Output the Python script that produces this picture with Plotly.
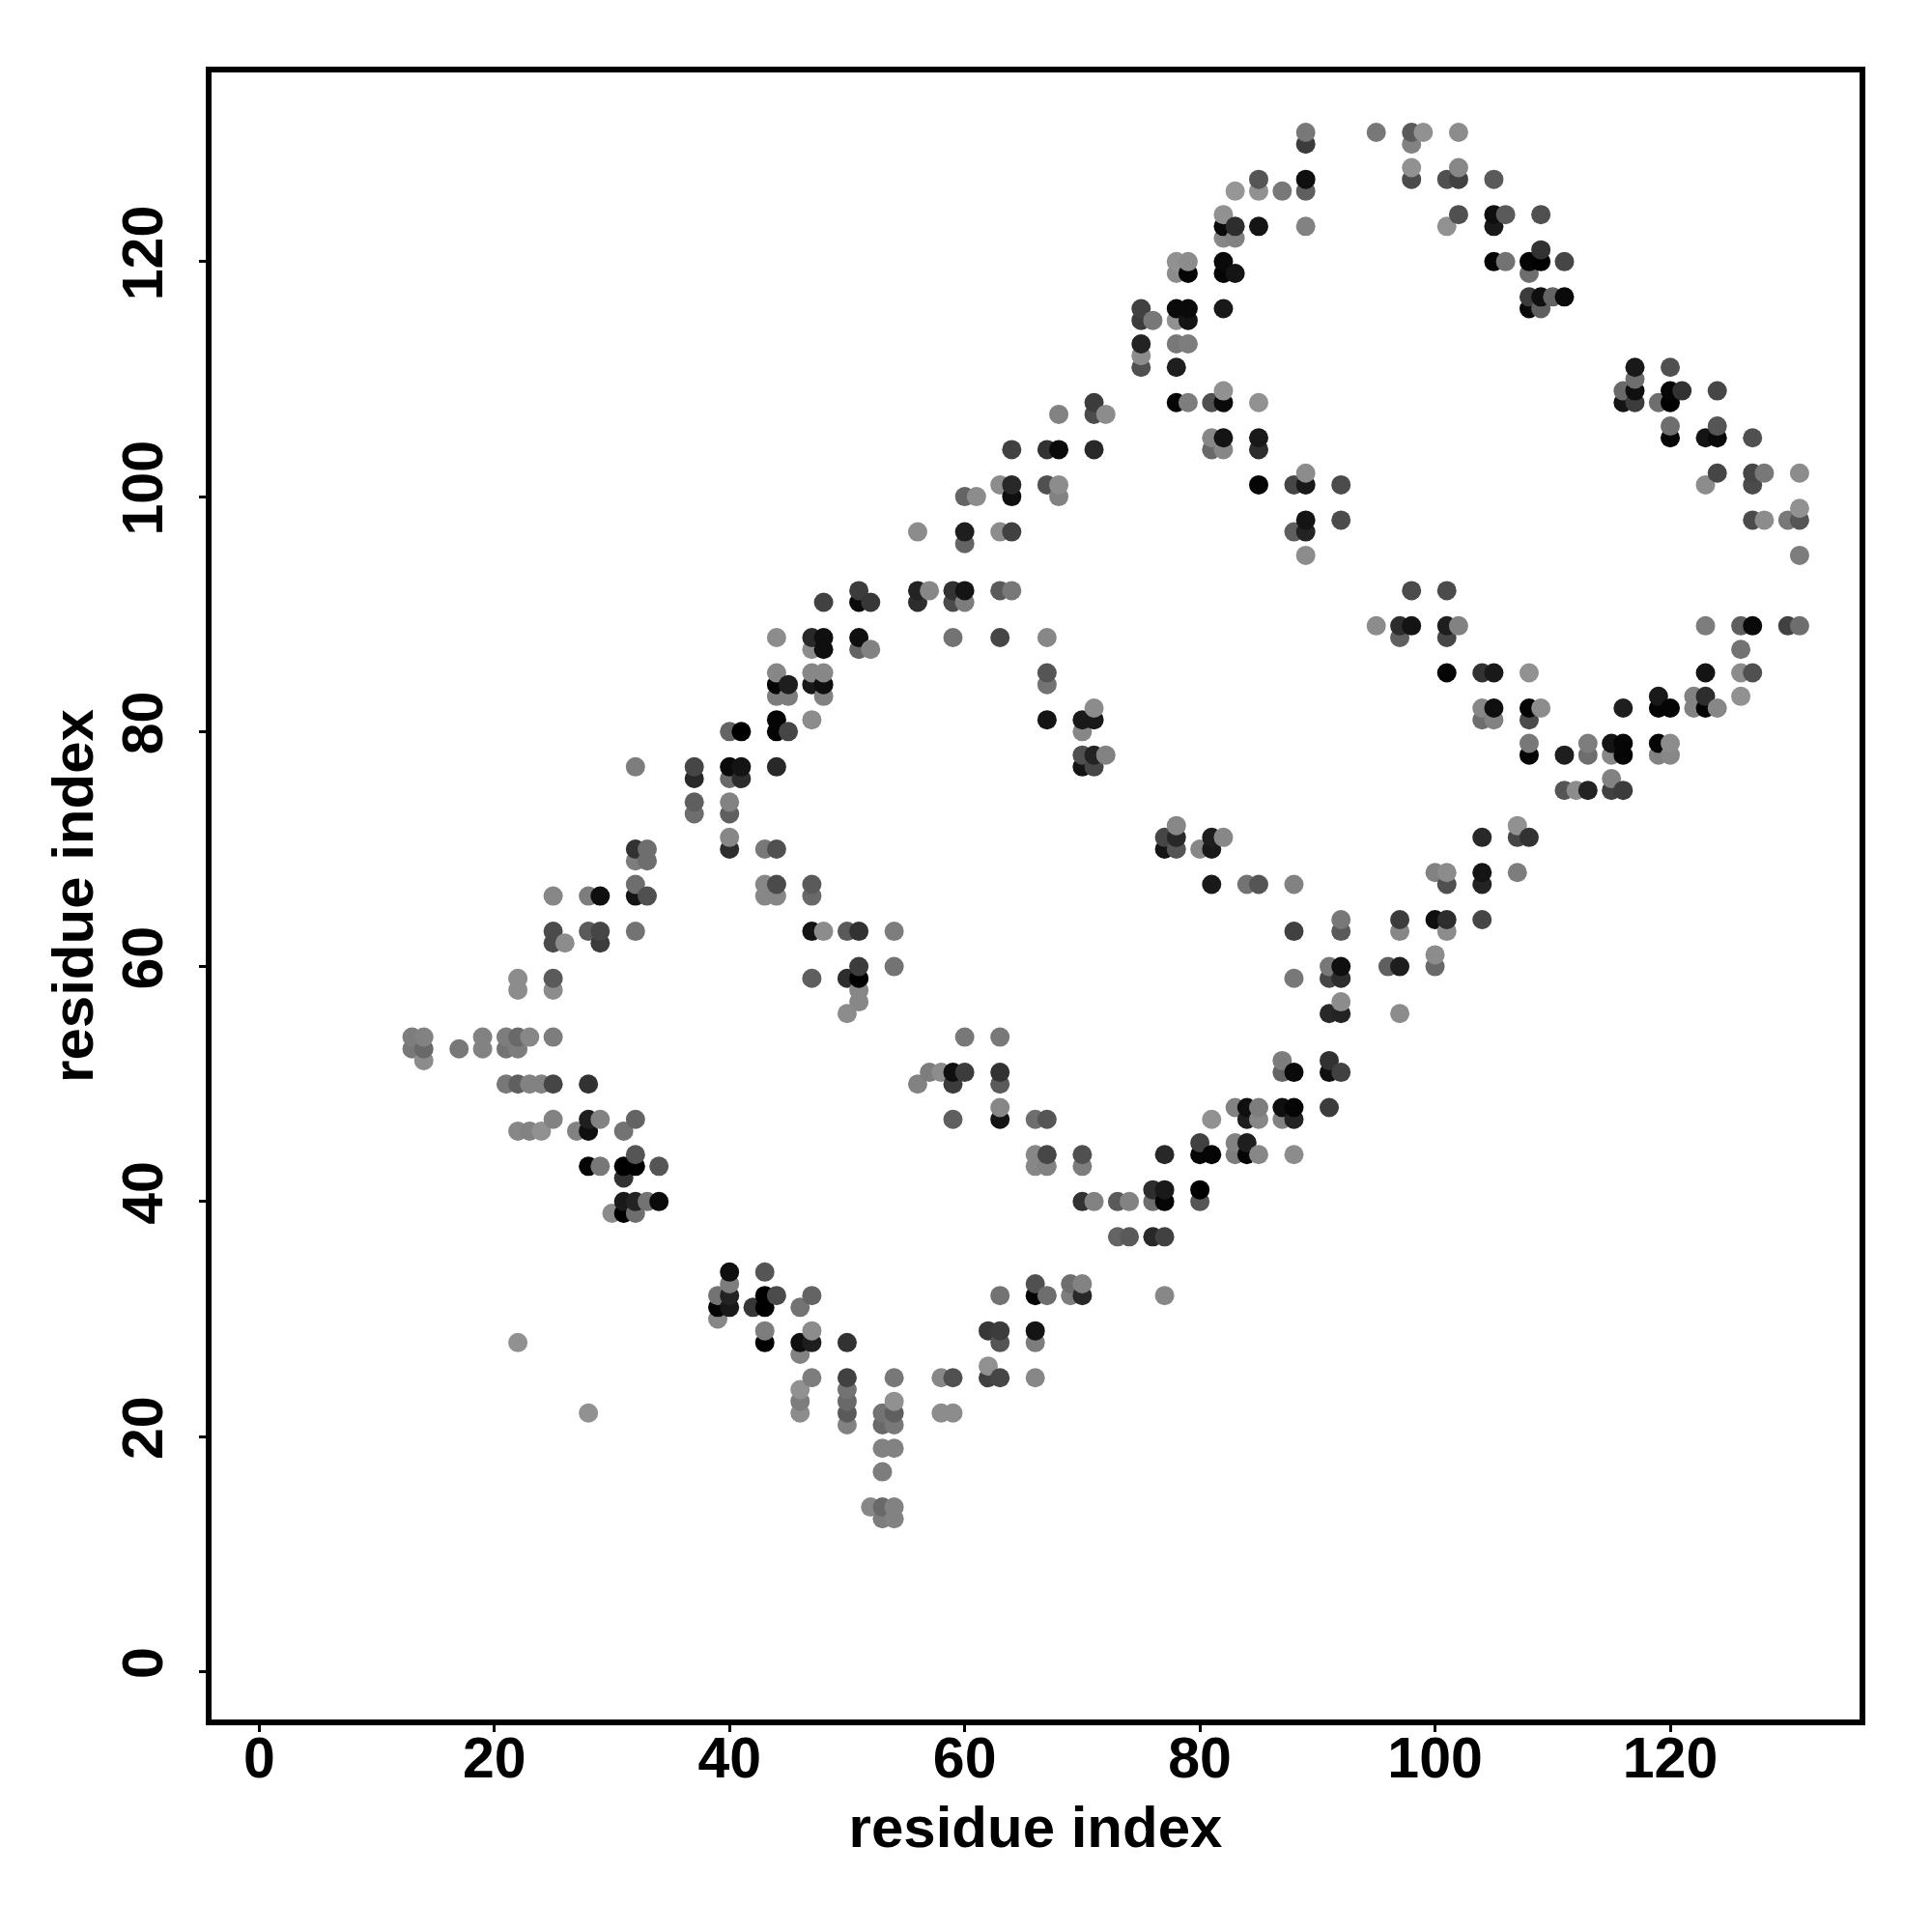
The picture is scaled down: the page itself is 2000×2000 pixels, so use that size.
import numpy as np
import plotly.graph_objects as go

tick_values = [0, 20, 40, 60, 80, 100, 120]
axis_label = "residue index"

residue_x = [
    89, 95, 98, 99, 102,
    89, 98,
    98, 102,
    85, 89, 98, 101, 102, 105,
    83, 85, 87, 89,
    82, 102, 105, 106, 109,
    82, 83, 85, 89, 101, 105,
    82, 83,
    109,
    78, 79, 82, 105, 106, 108, 109, 111,
    78, 79, 82, 83, 108,
    108, 109, 110, 111,
    75, 78, 79, 82, 108, 109,
    75, 76, 78, 79,
    75, 78, 79,
    75,
    75, 78, 117, 120,
    117,
    82, 116, 117, 120, 121, 124,
    71, 78, 79, 81, 82, 85, 116, 117, 119, 120,
    68, 71, 72,
    120, 124,
    81, 82, 85, 120, 123, 124, 127,
    64, 67, 68, 71, 81, 82, 85,
    89, 124, 127, 128, 131,
    63, 64, 67, 68, 85, 88, 89, 92, 123, 127,
    60, 61, 64, 68,
    131,
    89, 92, 127, 128, 130, 131,
    56, 60, 63, 64, 88, 89,
    60,
    89, 131,
    51, 56, 57, 59, 60, 63, 64, 98, 101,
    48, 51, 52, 56, 59, 60,
    95, 97, 98, 101, 102, 123, 126, 127, 130, 131,
    44, 47, 48, 51, 59, 63, 67, 97, 101,
    47, 48, 51, 52, 126,
    44, 47, 48, 67, 101, 104, 105, 108, 123, 126, 127,
    44, 45, 47, 48, 67,
    44, 45, 48, 119, 122, 123, 126,
    71, 104, 105, 108, 109, 116, 119, 120, 122, 123, 124,
    44, 47, 67, 70, 71, 104, 105, 108,
    40, 41, 44, 45, 70,
    108, 113, 115, 116, 119, 120,
    70, 71, 72, 108, 111, 113, 115, 116, 119, 120,
    32, 37, 40, 41, 44, 70, 71,
    37, 40, 41, 115,
    111, 112, 113, 115, 116,
    37, 40,
    37, 40,
    78, 107,
    40, 77, 78, 81, 82, 104, 107, 108,
    32, 33, 40, 43, 44, 77, 78, 80, 81,
    32, 33,
    100, 101, 104, 107,
    32, 43, 44, 47, 81, 84, 85, 88, 101, 104,
    25, 28, 29, 32, 33, 43, 44, 47,
    92, 97, 100, 101, 104,
    25, 28, 29, 32, 47, 48, 50, 51, 54, 88, 92, 97, 101,
    25, 26, 29,
    100,
    51, 54, 91, 92, 96, 97, 100,
    22, 25, 47, 50, 51, 88, 91, 92,
    22, 25, 51,
    51, 92,
    50, 91, 92, 97,
    13, 14, 19, 21, 22, 23, 25, 60, 63,
    13, 14, 17, 19, 21, 22,
    14, 87, 91,
    57, 58, 59, 60, 63, 87, 88, 91, 92,
    21, 22, 23, 24, 25, 28, 56, 59, 63,
    63, 83, 84, 85, 87, 88, 91,
    25, 28, 29, 32, 59, 63, 66, 67, 81, 84, 85, 87, 88,
    22, 23, 24, 27, 28, 31,
    80, 83, 84,
    32, 66, 67, 70, 77, 80, 81, 83, 84, 85, 88,
    28, 29, 31, 32, 34, 66, 67, 70,
    31,
    76, 77, 80,
    31, 32, 33, 34, 70, 71, 73, 74, 76, 77, 80,
    30, 31, 32,
    73, 74, 76, 77,
    40, 43,
    40, 66, 69, 70,
    39, 40, 43, 44, 47, 63, 66, 67, 69, 70, 77,
    39, 40, 42, 43, 46,
    39,
    43, 47, 62, 63, 66,
    22, 43, 46, 47, 50, 63, 66,
    46,
    62,
    47, 50, 54, 58, 59, 62, 63, 66,
    46, 50,
    46, 50, 54,
    28, 46, 50, 53, 54, 58, 59,
    50, 53, 54,
    53, 54,
    53,
    52, 53, 54,
    53, 54,
]

residue_y = [
    131, 131, 131, 131, 131,
    130, 130,
    128, 128,
    127, 127, 127, 127, 127, 127,
    126, 126, 126, 126,
    124, 124, 124, 124, 124,
    123, 123, 123, 123, 123, 123,
    122, 122,
    121,
    120, 120, 120, 120, 120, 120, 120, 120,
    119, 119, 119, 119, 119,
    117, 117, 117, 117,
    116, 116, 116, 116, 116, 116,
    115, 115, 115, 115,
    113, 113, 113,
    112,
    111, 111, 111, 111,
    110,
    109, 109, 109, 109, 109, 109,
    108, 108, 108, 108, 108, 108, 108, 108, 108, 108,
    107, 107, 107,
    106, 106,
    105, 105, 105, 105, 105, 105, 105,
    104, 104, 104, 104, 104, 104, 104,
    102, 102, 102, 102, 102,
    101, 101, 101, 101, 101, 101, 101, 101, 101, 101,
    100, 100, 100, 100,
    99,
    98, 98, 98, 98, 98, 98,
    97, 97, 97, 97, 97, 97,
    96,
    95, 95,
    92, 92, 92, 92, 92, 92, 92, 92, 92,
    91, 91, 91, 91, 91, 91,
    89, 89, 89, 89, 89, 89, 89, 89, 89, 89,
    88, 88, 88, 88, 88, 88, 88, 88, 88,
    87, 87, 87, 87, 87,
    85, 85, 85, 85, 85, 85, 85, 85, 85, 85, 85,
    84, 84, 84, 84, 84,
    83, 83, 83, 83, 83, 83, 83,
    82, 82, 82, 82, 82, 82, 82, 82, 82, 82, 82,
    81, 81, 81, 81, 81, 81, 81, 81,
    80, 80, 80, 80, 80,
    79, 79, 79, 79, 79, 79,
    78, 78, 78, 78, 78, 78, 78, 78, 78, 78,
    77, 77, 77, 77, 77, 77, 77,
    76, 76, 76, 76,
    75, 75, 75, 75, 75,
    74, 74,
    73, 73,
    72, 72,
    71, 71, 71, 71, 71, 71, 71, 71,
    70, 70, 70, 70, 70, 70, 70, 70, 70,
    69, 69,
    68, 68, 68, 68,
    67, 67, 67, 67, 67, 67, 67, 67, 67, 67,
    66, 66, 66, 66, 66, 66, 66, 66,
    64, 64, 64, 64, 64,
    63, 63, 63, 63, 63, 63, 63, 63, 63, 63, 63, 63, 63,
    62, 62, 62,
    61,
    60, 60, 60, 60, 60, 60, 60,
    59, 59, 59, 59, 59, 59, 59, 59,
    58, 58, 58,
    57, 57,
    56, 56, 56, 56,
    54, 54, 54, 54, 54, 54, 54, 54, 54,
    53, 53, 53, 53, 53, 53,
    52, 52, 52,
    51, 51, 51, 51, 51, 51, 51, 51, 51,
    50, 50, 50, 50, 50, 50, 50, 50, 50,
    48, 48, 48, 48, 48, 48, 48,
    47, 47, 47, 47, 47, 47, 47, 47, 47, 47, 47, 47, 47,
    46, 46, 46, 46, 46, 46,
    45, 45, 45,
    44, 44, 44, 44, 44, 44, 44, 44, 44, 44, 44,
    43, 43, 43, 43, 43, 43, 43, 43,
    42,
    41, 41, 41,
    40, 40, 40, 40, 40, 40, 40, 40, 40, 40, 40,
    39, 39, 39,
    37, 37, 37, 37,
    34, 34,
    33, 33, 33, 33,
    32, 32, 32, 32, 32, 32, 32, 32, 32, 32, 32,
    31, 31, 31, 31, 31,
    30,
    29, 29, 29, 29, 29,
    28, 28, 28, 28, 28, 28, 28,
    27,
    26,
    25, 25, 25, 25, 25, 25, 25, 25,
    24, 24,
    23, 23, 23,
    22, 22, 22, 22, 22, 22, 22,
    21, 21, 21,
    19, 19,
    17,
    14, 14, 14,
    13, 13,
]

gray_level = [
    120, 120, 90, 145, 140,
    60, 130,
    145, 135,
    85, 15, 75, 80, 65, 90,
    150, 145, 120, 95,
    145, 80, 15, 90, 80,
    10, 45, 20, 130, 145, 25,
    135, 130,
    50,
    145, 140, 10, 5, 115, 5, 0, 70,
    140, 5, 5, 20, 110,
    60, 15, 100, 10,
    65, 10, 10, 25, 10, 95,
    60, 120, 145, 20,
    35, 120, 125,
    140,
    80, 30, 25, 80,
    110,
    145, 105, 15, 5, 50, 70,
    60, 5, 125, 80, 10, 145, 20, 60, 110, 0,
    130, 75, 140,
    110, 85,
    135, 20, 25, 5, 20, 10, 80,
    65, 50, 10, 40, 105, 135, 45,
    140, 70, 70, 120, 140,
    140, 40, 80, 140, 5, 70, 25, 75, 140, 75,
    100, 140, 15, 130,
    145,
    20, 75, 75, 140, 120, 85,
    140, 30, 140, 65, 95, 35,
    100,
    140, 125,
    60, 35, 135, 50, 20, 90, 120, 75, 75,
    65, 10, 55, 45, 75, 125,
    140, 45, 20, 30, 130, 125, 95, 10, 65, 110,
    140, 40, 15, 15, 115, 70, 135, 95, 70,
    140, 15, 100, 130, 115,
    135, 135, 135, 85, 5, 50, 25, 145, 20, 140, 80,
    5, 30, 25, 15, 115,
    125, 125, 130, 25, 130, 45, 145,
    140, 135, 15, 5, 140, 30, 5, 5, 130, 5, 135,
    5, 140, 20, 25, 25, 110, 130, 75,
    100, 0, 5, 70, 135,
    120, 125, 20, 5, 5, 140,
    80, 35, 130, 5, 30, 110, 135, 5, 130, 135,
    125, 70, 10, 20, 40, 20, 70,
    40, 105, 45, 130,
    85, 140, 35, 65, 60,
    95, 130,
    110, 95,
    135, 145,
    135, 70, 40, 30, 135, 40, 70, 50,
    50, 110, 45, 120, 80, 20, 85, 135, 25,
    125, 110,
    130, 140, 20, 125,
    110, 135, 75, 90, 25, 115, 85, 130, 80, 35,
    135, 125, 15, 20, 80, 135, 135, 105,
    120, 60, 15, 45, 70,
    75, 90, 70, 115, 20, 140, 90, 50, 125, 65, 90, 135, 140,
    75, 140, 60,
    140,
    60, 115, 120, 15, 95, 30, 105,
    140, 90, 95, 45, 0, 120, 70, 45,
    140, 140, 135,
    135, 140,
    140, 40, 35, 140,
    125, 130, 130, 125, 105, 135, 125, 120, 120,
    120, 105, 120, 130, 115, 125,
    140, 125, 50,
    125, 140, 15, 60, 50, 100, 10, 15, 65,
    120, 95, 130, 130, 70, 50, 130, 60, 90,
    135, 130, 15, 125, 15, 5, 60,
    130, 30, 130, 100, 95, 20, 110, 85, 145, 30, 135, 130, 35,
    135, 130, 145, 130, 15, 115,
    65, 130, 30,
    85, 135, 70, 80, 40, 5, 5, 125, 5, 135, 140,
    5, 120, 0, 0, 85, 135, 130, 125,
    50,
    45, 25, 0,
    25, 35, 115, 10, 50, 130, 90, 130, 110, 5, 85,
    140, 0, 110,
    100, 90, 40, 65,
    15, 85,
    125, 80, 110, 130,
    115, 35, 0, 75, 100, 115, 5, 110, 125, 40, 135,
    5, 25, 55, 0, 115,
    135,
    125, 140, 55, 60, 20,
    145, 0, 15, 30, 50, 85, 125,
    130,
    145,
    125, 65, 120, 135, 80, 65, 70, 135,
    145, 115,
    125, 105, 145,
    145, 140, 90, 115, 95, 140, 140,
    130, 105, 120,
    130, 130,
    125,
    135, 105, 130,
    125, 130,
]

assert len(residue_x) == len(residue_y) == len(gray_level), (len(residue_x), len(residue_y), len(gray_level))

draw_order = np.lexsort((residue_y, residue_x))
xs = [residue_x[i] for i in draw_order]
ys = [residue_y[i] for i in draw_order]
colors = [f"rgb({gray_level[i]},{gray_level[i]},{gray_level[i]})" for i in draw_order]

fig = go.Figure(
    go.Scatter(
        x=xs, y=ys, mode="markers",
        marker=dict(size=20, color=colors, line=dict(width=0)),
        hoverinfo="skip", showlegend=False,
    )
)

font_tick = dict(family="Liberation Sans", size=59, color="black", weight="bold")
font_title = dict(family="Liberation Sans", size=60, color="black", weight="bold")
axis_common = dict(
    tickmode="array", tickvals=tick_values, ticktext=[str(v) for v in tick_values],
    showgrid=False, zeroline=False, showline=True, mirror=True,
    linecolor="black", linewidth=6,
    ticks="outside", ticklen=7, tickwidth=3, tickcolor="black",
    tickfont=font_tick,
)
fig.update_layout(
    width=2000, height=2000, autosize=False,
    margin=dict(l=211, r=83, t=67, b=228, pad=0),
    paper_bgcolor="white", plot_bgcolor="white",
    xaxis=dict(range=[-4.05, 136.1], ticklabelstandoff=-24,
               title=dict(text=axis_label, font=font_title, standoff=20), **axis_common),
    yaxis=dict(range=[-4.08, 136.1], ticklabelstandoff=14, tickangle=-90,
               title=dict(text=axis_label, font=font_title, standoff=1), **axis_common),
)
fig.write_html("out.html")
